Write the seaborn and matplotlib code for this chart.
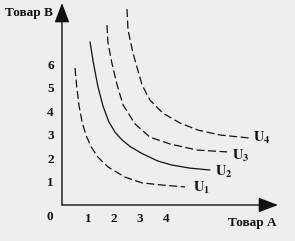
import numpy as np
import pandas as pd
import matplotlib
matplotlib.use("Agg")
import matplotlib.pyplot as plt
import seaborn as sns

sns.set_theme(style="white")
plt.rcParams['font.family'] = ['Liberation Serif', 'DejaVu Serif']
plt.rcParams['mathtext.fontset'] = 'stix'

# Indifference curves
u1_x = [0.50, 0.57, 0.66, 0.78, 0.93, 1.12, 1.38, 1.77, 2.42, 3.08, 3.85, 4.73]
u1_y = [5.83, 5.00, 4.20, 3.50, 2.95, 2.48, 2.04, 1.62, 1.19, 0.94, 0.85, 0.77]
u2_x = [1.08, 1.20, 1.38, 1.58, 1.80, 2.04, 2.31, 2.62, 3.08, 3.69, 4.23, 4.92, 5.69]
u2_y = [6.94, 6.10, 5.05, 4.20, 3.55, 3.10, 2.77, 2.49, 2.19, 1.87, 1.70, 1.57, 1.49]
u3_x = [1.73, 1.77, 1.92, 2.12, 2.35, 2.81, 3.38, 4.15, 5.19, 6.35]
u3_y = [7.66, 6.89, 6.04, 5.11, 4.26, 3.45, 2.89, 2.60, 2.34, 2.26]
u4_x = [2.50, 2.54, 2.73, 3.08, 3.38, 3.88, 4.54, 5.23, 6.08, 7.23]
u4_y = [8.34, 7.45, 6.47, 5.11, 4.47, 3.91, 3.49, 3.19, 2.98, 2.85]
curve_labels = [r'$\mathbf{U_1}$', r'$\mathbf{U_2}$', r'$\mathbf{U_3}$', r'$\mathbf{U_4}$']
curve_dashed = [True, False, True, True]
x_ticks = [1, 2, 3, 4]
y_ticks = [1, 2, 3, 4, 5, 6]
x_title = "Товар А"
y_title = "Товар В"

W, H = 295, 241
fig = plt.figure(figsize=(W / 100, H / 100), dpi=100)
fig.patch.set_facecolor('#eeeeee')
ax = fig.add_axes([62 / W, (H - 205) / H, (278 - 62) / W, (205 - 3) / H])
ax.set_facecolor('none')
ax.set_xlim(0, 8.31)
ax.set_ylim(0, 8.6)

curves = [(u1_x, u1_y), (u2_x, u2_y), (u3_x, u3_y), (u4_x, u4_y)]
label_pos = [(5.04, 0.72), (5.88, 1.40), (6.54, 2.10), (7.35, 2.84)]
for (cx, cy), lab, dashed, (lx, ly) in zip(curves, curve_labels, curve_dashed, label_pos):
    df = pd.DataFrame({'x': cx, 'y': cy})
    ls = (0, (6.4, 2.8)) if dashed else '-'
    sns.lineplot(data=df, x='x', y='y', sort=False, estimator=None, ax=ax,
                 color='#111111', linewidth=0.9, linestyle=ls)
    ax.text(lx, ly, lab, fontsize=10.5, color='#111111', ha='left', va='center')

ax.set_xlabel('')
ax.set_ylabel('')
ax.set_xticks(x_ticks)
ax.set_yticks(y_ticks)
ax.set_xticklabels([str(t) for t in x_ticks], fontsize=9.5, fontweight='bold')
ax.set_yticklabels([str(t) for t in y_ticks], fontsize=9.5, fontweight='bold')
ax.tick_params(length=0, pad=6, colors='#111111')
for s in ax.spines.values():
    s.set_visible(False)

arrow = dict(arrowstyle='-|>,head_length=1.0,head_width=0.38', lw=1.0,
             color='#111111', shrinkA=0, shrinkB=0)
ax.annotate('', xy=(0, 8.6), xytext=(0, 0), arrowprops=arrow, annotation_clip=False)
ax.annotate('', xy=(8.31, 0), xytext=(0, 0), arrowprops=arrow, annotation_clip=False)

fig.text(50 / W, 1 - 217 / H, '0', fontsize=9.5, fontweight='bold', ha='center', va='center', color='#111111')
fig.text(5 / W, 1 - 13 / H, y_title, fontsize=9.5, fontweight='bold', ha='left', va='center', color='#111111')
fig.text(228 / W, 1 - 223 / H, x_title, fontsize=9.5, fontweight='bold', ha='left', va='center', color='#111111')

fig.savefig('out.png', dpi=100, facecolor=fig.get_facecolor())
